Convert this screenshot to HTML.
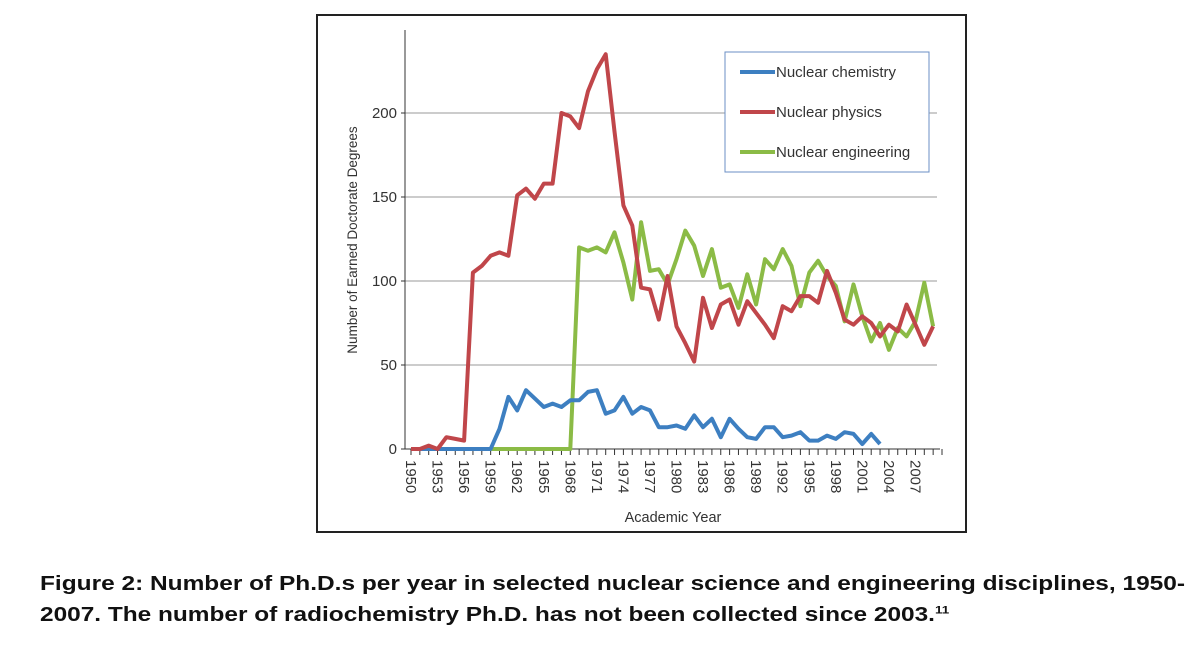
<!DOCTYPE html>
<html><head><meta charset="utf-8"><style>
body{margin:0;background:#fff;width:1200px;height:651px;overflow:hidden;font-family:"Liberation Sans",sans-serif}
.cap{position:absolute;left:40px;font-weight:bold;font-size:20px;color:#111;white-space:nowrap;transform-origin:0 0}
</style></head><body>
<svg width="1200" height="651" style="position:absolute;left:0;top:0" xmlns="http://www.w3.org/2000/svg">
<rect x="317" y="15" width="649" height="517" fill="none" stroke="#222" stroke-width="2"/>
<g id="grid"></g><g id="axes"></g><g id="series"></g>
<text transform="translate(357,240) rotate(-90)" text-anchor="middle" font-size="13.5" fill="#333" font-family="Liberation Sans, sans-serif">Number of Earned Doctorate Degrees</text>
<text x="673" y="522" text-anchor="middle" font-size="14.5" fill="#333" font-family="Liberation Sans, sans-serif">Academic Year</text>
<g font-family="Liberation Sans, sans-serif">
<rect x="725" y="52" width="204" height="120" fill="#fff" stroke="#6b8fc4" stroke-width="1"/>
<line x1="740" y1="72" x2="775" y2="72" stroke="#3d7fc1" stroke-width="4"/>
<text x="776" y="77" font-size="15" fill="#333">Nuclear chemistry</text>
<line x1="740" y1="112" x2="775" y2="112" stroke="#c0464a" stroke-width="4"/>
<text x="776" y="117" font-size="15" fill="#333">Nuclear physics</text>
<line x1="740" y1="152" x2="775" y2="152" stroke="#8bbb46" stroke-width="4"/>
<text x="776" y="157" font-size="15" fill="#333">Nuclear engineering</text>
</g>
</svg>
<div class="cap" style="top:573px;transform:scaleX(1.222)">Figure 2: Number of Ph.D.s per year in selected nuclear science and engineering disciplines, 1950-</div>
<div class="cap" style="top:604px;transform:scaleX(1.22)">2007. The number of radiochemistry Ph.D. has not been collected since 2003.<sup style="font-size:11px">11</sup></div>
<script>
const startYear = 1950;
const chemistry = [0,0,0,0,0,0,0,0,0,0,12,31,23,35,30,25,27,25,29,29,34,35,21,23,31,21,25,23,13,13,14,12,20,13,18,7,18,12,7,6,13,13,7,8,10,5,5,8,6,10,9,3,9,3];
const physics = [0,0,2,0,7,6,5,105,109,115,117,115,151,155,149,158,158,200,198,191,213,226,235,189,145,133,96,95,77,103,73,63,52,90,72,86,89,74,88,81,74,66,85,82,91,91,87,106,93,77,74,79,75,67,74,70,86,74,62,73];
const engineering = [0,0,0,0,0,0,0,0,0,0,0,0,0,0,0,0,0,0,0,120,118,120,117,129,111,89,135,106,107,98,113,130,121,103,119,96,98,84,104,86,113,107,119,109,85,105,112,103,97,76,98,79,64,75,59,72,67,76,99,73];
const yTicks = [0,50,100,150,200];
const NS="http://www.w3.org/2000/svg";
const x = y => 411 + (y - startYear) * 8.85;
const yv = v => 449 - v * 1.68;
function mk(tag, attrs, parent){const e=document.createElementNS(NS,tag);for(const k in attrs)e.setAttribute(k,attrs[k]);parent.appendChild(e);return e;}
const grid=document.getElementById('grid'), axes=document.getElementById('axes'), ser=document.getElementById('series');
yTicks.forEach(t=>{
  if(t>0){const g=mk('line',{x1:405,x2:937,y1:yv(t),y2:yv(t),stroke:'#999','stroke-width':1},grid);
  
  }
  mk('line',{x1:401,x2:405,y1:yv(t),y2:yv(t),stroke:'#333'},axes);
  const l=mk('text',{x:397,y:yv(t)+5,'text-anchor':'end','font-size':15,fill:'#333','font-family':'Liberation Sans, sans-serif'},axes);
  l.textContent=t;
  
  
});
mk('line',{x1:405,x2:405,y1:30,y2:449,stroke:'#333'},axes);
mk('line',{x1:405,x2:940,y1:449,y2:449,stroke:'#333'},axes);
for(let yr=1950;yr<=2010;yr++){
  mk('line',{x1:x(yr),x2:x(yr),y1:449,y2:455,stroke:'#333'},axes);
  if((yr-1950)%3===0 && yr<=2007){
    const l=mk('text',{transform:`translate(${x(yr)-5},460) rotate(90)`,'font-size':15,fill:'#333','font-family':'Liberation Sans, sans-serif'},axes);
    l.textContent=yr;
    
    
  }
}
function line(arr,color,name){
  const pts=arr.map((v,i)=>x(startYear+i).toFixed(1)+','+yv(v).toFixed(1)).join(' ');
  const p=mk('polyline',{points:pts,fill:'none',stroke:color,'stroke-width':4,'stroke-linejoin':'round'},ser);
  
  
}
line(engineering,'#8bbb46','series-nuclear-engineering');
line(chemistry,'#3d7fc1','series-nuclear-chemistry');
line(physics,'#c0464a','series-nuclear-physics');
</script>
</body></html>
